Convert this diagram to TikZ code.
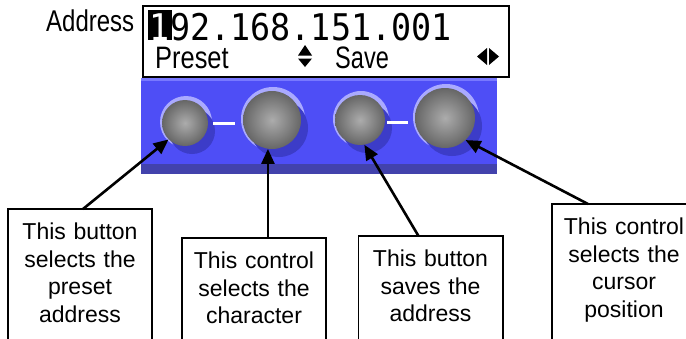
\documentclass[tikz,border=0pt]{standalone}
\usepackage{fontspec}
\setmainfont{Liberation Sans}
\setmonofont{DejaVu Sans Mono}
\usetikzlibrary{arrows.meta}

\definecolor{panelblue}{RGB}{78,78,246}
\definecolor{paneldark}{RGB}{66,66,172}
\definecolor{panellight}{RGB}{120,120,255}
\definecolor{knobshadow}{RGB}{60,60,200}
\definecolor{rimlight}{RGB}{170,170,255}

\newcommand\lcdbig{\fontsize{33.4}{36}\ttfamily}

\begin{document}
\begin{tikzpicture}[x=1pt,y=-1pt,
		box/.style={
			align=center, anchor=north,
			text width=144pt, inner xsep=0pt, inner ysep=14pt,
			font=\fontsize{23}{27.5}\selectfont
		},
		arr/.style={line width=2.6pt, -{Triangle[length=15pt,width=13pt]}},
		knob/.style={circle, inner sep=0pt, shading=radial,
			inner color=gray!65, outer color=black!60},
		bar/.style={white, line width=3pt},
		lcdtxt/.style={inner sep=0pt, anchor=base west}
	]
	\useasboundingbox (0,0) rectangle (686,338);
	\clip (0,0) rectangle (686,338);
	
	% front panel
	\fill[panelblue] (141,78) rectangle (497,174);
	\fill[panellight] (141,78) rectangle (497,81);
	\fill[paneldark] (141,164) rectangle (497,174);
	
	% display
	\node[draw, line width=2pt, fill=white, anchor=north west, inner sep=0pt,
		minimum width=366pt, minimum height=71pt] (lcd) at (142,5) {};
	\node[lcdtxt, font=\fontsize{30}{31}\selectfont] (addr) at (46,31)
		{\scalebox{0.8}[1]{Address}};
	\node[fill=black, text=white, anchor=base, inner xsep=2pt, inner ysep=0pt,
		text height=30pt, text depth=0pt, font=\lcdbig] (cur) at (160,40)
		{\scalebox{1}[1.1]{1}};
	\node[lcdtxt, font=\lcdbig] (ip) at (170,40)
		{\scalebox{1}[1.1]{92.168.151.001}};
	\node[lcdtxt, font=\fontsize{31}{32}\selectfont] (preset) at (155,68)
		{\scalebox{0.82}[1]{Preset}};
	\node[lcdtxt, font=\fontsize{31}{32}\selectfont] (save) at (335,68)
		{\scalebox{0.76}[1]{Save}};
	\fill (298,55.5) -- (312,55.5) -- (305,45) -- cycle;
	\fill (298,58.5) -- (312,58.5) -- (305,67) -- cycle;
	\fill (487,48) -- (487,65) -- (477,56.5) -- cycle;
	\fill (489,48) -- (489,65) -- (499,56.5) -- cycle;
	
	% knobs
	\foreach \n/\x/\y/\r in {k1/185/123/23, k2/272/120/29, k3/360/120/25, k4/445/118/30}{
		\fill[rimlight] ({\x+1},{\y-1}) circle[radius={\r+3}];
		\fill[knobshadow] ({\x+7},{\y+8}) circle[radius=\r];
		\node[knob, minimum size={2*\r}] (\n) at (\x,\y) {};
	}
	\draw[bar, shorten <=5pt, shorten >=8pt] (k1.east) -- (k2.west |- k1.east);
	\draw[bar, shorten <=2pt, shorten >=7pt] (k3.east |- 0,122) -- (k4.west |- 0,122);
	
	% labels
	\node[box] (b1) at (80,209) {This button\\selects the\\preset\\address};
	\node[box] (b2) at (254,238) {This control\\selects the\\character};
	\node[box] (b3) at (430.5,236) {This button\\saves the\\address};
	\node[box] (b4) at (624,204) {This control\\selects the\\cursor\\position};
	\coordinate (bot) at (0,345);
	\foreach \b in {b1,b2,b3,b4}
		\draw[line width=1.6pt] (\b.north west |- bot) |- (\b.north east) -- (\b.north east |- bot);
	
	\draw[arr] ([xshift=3pt]b1.north) -- (k1.225);
	\draw[arr] (k2.262 |- b2.north) -- (k2.262);
	\draw[arr] ([xshift=-12pt]b3.north) -- (k3.-80);
	\draw[arr] ([xshift=-36pt]b4.north) -- (k4.-47);
\end{tikzpicture}
\end{document}
